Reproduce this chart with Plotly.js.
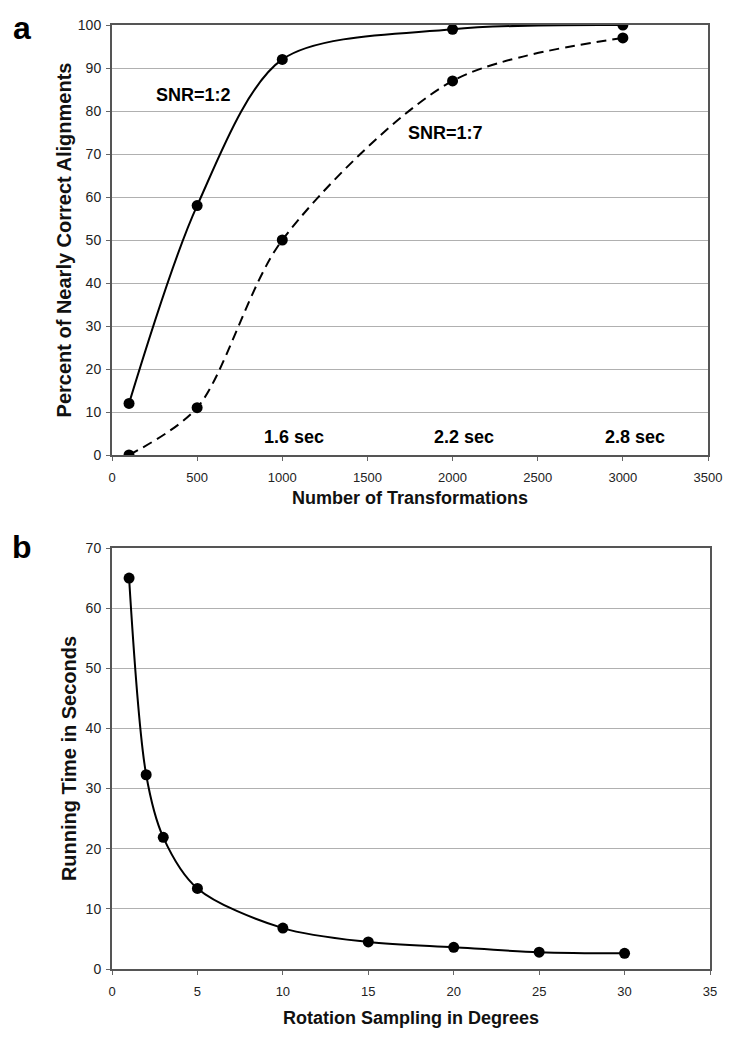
<!DOCTYPE html>
<html>
<head>
<meta charset="utf-8">
<script src="https://cdn.plot.ly/plotly-3.0.1.min.js"></script>
<style>html,body{margin:0;padding:0;background:#fff;}#chart{width:737px;height:1050px;}</style>
</head>
<body>
<div id="chart"></div>
<script>
// Panel a data
const transformations = [100, 500, 1000, 2000, 3000];
const snr12 = [12, 58, 92, 99, 100];
const snr17 = [0, 11, 50, 87, 97];
const timeLabels = ["1.6 sec", "2.2 sec", "2.8 sec"];
const timeLabelX = [1000, 2000, 3000];

// Panel b data
const rotationDegrees = [1, 2, 3, 5, 10, 15, 20, 25, 30];
const runningSeconds = [65, 32.3, 21.9, 13.4, 6.8, 4.5, 3.6, 2.8, 2.6];

const FONT = "Liberation Sans, Arial, Helvetica, sans-serif";
const marker = {symbol: "circle", size: 11, color: "#000"};

const traces = [
  {x: transformations, y: snr12, xaxis: "x", yaxis: "y", mode: "lines+markers",
   line: {color: "#000", width: 2, shape: "spline", smoothing: 0.85}, marker: marker, name: "SNR=1:2"},
  {x: transformations, y: snr17, xaxis: "x", yaxis: "y", mode: "lines+markers",
   line: {color: "#000", width: 2, shape: "spline", smoothing: 0.85, dash: "10px,6px"}, marker: marker, name: "SNR=1:7"},
  {x: rotationDegrees, y: runningSeconds, xaxis: "x2", yaxis: "y2", mode: "lines+markers",
   line: {color: "#000", width: 2, shape: "spline", smoothing: 0.9}, marker: marker, name: "Running time"}
];

const axisCommon = {
  showline: true, linecolor: "#555", linewidth: 2, mirror: true,
  ticks: "outside", ticklen: 4, tickcolor: "#666", tickwidth: 1,
  zeroline: false, automargin: false, fixedrange: true
};
const xTickFont = {family: FONT, size: 13, color: "#222"};
const yTickFont = {family: FONT, size: 14, color: "#222"};
const xTitleFont = {family: FONT, size: 18, color: "#111", weight: 700};
const yTitleFont = {family: FONT, size: 20, color: "#111", weight: 700};

const annotations = [
  {text: "a", xref: "paper", yref: "paper", x: 22/737, y: 1 - 28/1050, xanchor: "center", yanchor: "middle",
   showarrow: false, font: {family: FONT, size: 32, color: "#000", weight: 700}},
  {text: "b", xref: "paper", yref: "paper", x: 22/737, y: 1 - 547/1050, xanchor: "center", yanchor: "middle",
   showarrow: false, font: {family: FONT, size: 32, color: "#000", weight: 700}},
  {text: "SNR=1:2", xref: "x", yref: "y", x: 476, y: 83.7, showarrow: false,
   font: {family: FONT, size: 18, color: "#000", weight: 700}},
  {text: "SNR=1:7", xref: "x", yref: "y", x: 1961, y: 74.9, showarrow: false,
   font: {family: FONT, size: 18, color: "#000", weight: 700}}
];
timeLabels.forEach((t, i) => annotations.push({
  text: t, xref: "x", yref: "y", x: timeLabelX[i] + 70, y: 4.1, showarrow: false,
  font: {family: FONT, size: 18, color: "#000", weight: 700}
}));

const layout = {
  width: 737, height: 1050,
  margin: {l: 0, r: 0, t: 0, b: 0},
  paper_bgcolor: "#fff", plot_bgcolor: "#fff",
  showlegend: false,
  xaxis: Object.assign({}, axisCommon, {
    domain: [112/737, 708/737], anchor: "y", range: [0, 3500], dtick: 500, tick0: 0, showgrid: false,
    tickfont: xTickFont, ticklabelstandoff: 5,
    title: {text: "Number of Transformations", font: xTitleFont, standoff: 8}
  }),
  yaxis: Object.assign({}, axisCommon, {
    domain: [1 - 455/1050, 1 - 25/1050], anchor: "x", range: [0, 100], dtick: 10, tick0: 0,
    showgrid: true, gridcolor: "#b0b0b0", gridwidth: 1, tickfont: yTickFont, ticklabelstandoff: 2,
    title: {text: "Percent of Nearly Correct Alignments", font: yTitleFont, standoff: 1}
  }),
  xaxis2: Object.assign({}, axisCommon, {
    domain: [112/737, 710/737], anchor: "y2", range: [0, 35], dtick: 5, tick0: 0, showgrid: false,
    tickfont: xTickFont, ticklabelstandoff: 5,
    title: {text: "Rotation Sampling in Degrees", font: xTitleFont, standoff: 14}
  }),
  yaxis2: Object.assign({}, axisCommon, {
    domain: [1 - 969/1050, 1 - 548/1050], anchor: "x2", range: [0, 70], dtick: 10, tick0: 0,
    showgrid: true, gridcolor: "#b0b0b0", gridwidth: 1, tickfont: yTickFont, ticklabelstandoff: 2,
    title: {text: "Running Time in Seconds", font: yTitleFont, standoff: 4}
  }),
  annotations: annotations
};

Plotly.newPlot("chart", traces, layout, {displayModeBar: false, staticPlot: true});
</script>
</body>
</html>
